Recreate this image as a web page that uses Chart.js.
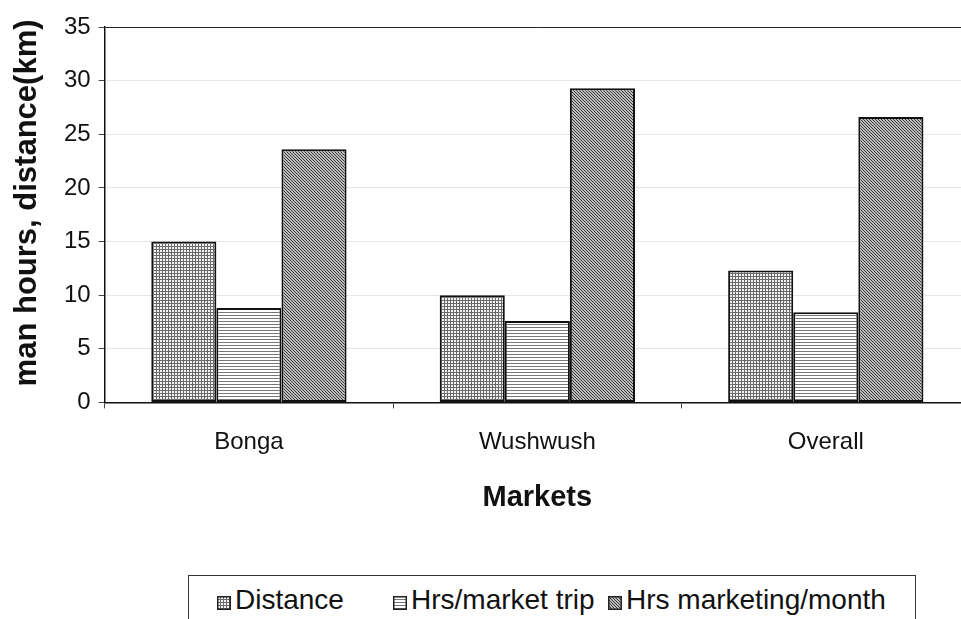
<!DOCTYPE html>
<html>
<head>
<meta charset="utf-8">
<script src="https://cdn.jsdelivr.net/npm/chart.js@4.4.1/dist/chart.umd.min.js"></script>
<style>
    html, body { margin: 0; padding: 0; background: #fff; overflow: hidden; }
    #wrap { position: absolute; left: 0; top: 0; width: 975px; height: 560px; }
    #legend {
        position: absolute; left: 188px; top: 575px; width: 728px; height: 60px;
        border: 1px solid #333; box-sizing: border-box; background: #fff;
        font-family: "Liberation Sans", Arial, sans-serif; font-size: 28px; color: #111;
    }
    #legend .item { position: absolute; top: 10px; white-space: nowrap; line-height: 28px; }
    #legend canvas { width: 14px; height: 14px; vertical-align: -1px; margin-right: 4px; }
</style>
</head>
<body>
<div id="wrap"><canvas id="marketsChart"></canvas></div>
<div id="legend"></div>
<script>
// Données
const markets = ['Bonga', 'Wushwush', 'Overall'];
const distance = [15.0, 10.0, 12.3];
const hrsPerTrip = [8.8, 7.6, 8.4];
const hrsPerMonth = [23.6, 29.3, 26.6];
const yTicks = [0, 5, 10, 15, 20, 25, 30, 35];
const seriesLabels = ['Distance', 'Hrs/market trip', 'Hrs marketing/month'];

const FONT = '"Liberation Sans", Arial, sans-serif';

// Motifs de remplissage (trame)
function makePattern(kind) {
    const c = document.createElement('canvas');
    c.width = 3; c.height = 3;
    const g = c.getContext('2d');
    if (kind === 'grid') {
        g.fillStyle = '#f4f4f4'; g.fillRect(0, 0, 3, 3);
        g.fillStyle = '#6a6a6a';
        g.fillRect(0, 0, 3, 1);
        g.fillRect(0, 0, 1, 3);
    } else if (kind === 'hlines') {
        g.fillStyle = '#ffffff'; g.fillRect(0, 0, 3, 3);
        g.fillStyle = '#777777';
        g.fillRect(0, 0, 3, 1);
    } else {
        g.fillStyle = '#bcbcbc'; g.fillRect(0, 0, 3, 3);
        g.fillStyle = '#3a3a3a';
        for (let i = 0; i < 3; i++) g.fillRect(i, i, 1, 1);
    }
    return { tile: c, pattern: g.createPattern(c, 'repeat') };
}

const patterns = [makePattern('grid'), makePattern('hlines'), makePattern('diag')];

// Titre vertical de l'axe Y (dépasse en haut comme sur l'original)
const yTitlePlugin = {
    id: 'yTitle',
    afterDraw(chart) {
        const ctx = chart.ctx;
        ctx.save();
        ctx.translate(27, chart.chartArea.bottom - 16);
        ctx.rotate(-Math.PI / 2);
        ctx.font = 'bold 31px ' + FONT;
        ctx.fillStyle = '#111';
        ctx.textAlign = 'left';
        ctx.textBaseline = 'middle';
        ctx.fillText('man hours, distance(km)', 0, 0);
        ctx.restore();
    }
};

const dataSets = [distance, hrsPerTrip, hrsPerMonth].map((values, i) => ({
    label: seriesLabels[i],
    data: values,
    backgroundColor: patterns[i].pattern,
    borderColor: '#111',
    borderWidth: 2,
    borderSkipped: false,
    barPercentage: 1,
    categoryPercentage: 0.677
}));

const chart = new Chart(document.getElementById('marketsChart'), {
    type: 'bar',
    data: { labels: markets, datasets: dataSets },
    options: {
        responsive: true,
        maintainAspectRatio: false,
        animation: false,
        layout: { padding: { left: 56, top: 27, right: 5, bottom: 45 } },
        plugins: {
            legend: { display: false },
            tooltip: { enabled: false }
        },
        scales: {
            x: {
                grid: {
                    offset: true,
                    drawOnChartArea: false,
                    tickLength: 6,
                    tickColor: '#444'
                },
                border: { color: '#111', width: 1.5 },
                ticks: { color: '#111', padding: 20, font: { family: FONT, size: 24 } },
                title: {
                    display: true,
                    text: 'Markets',
                    color: '#111',
                    padding: { top: 3, bottom: 0 },
                    font: { family: FONT, size: 29, weight: 'bold' }
                }
            },
            y: {
                min: 0,
                max: 35,
                afterBuildTicks: axis => { axis.ticks = yTicks.map(v => ({ value: v })); },
                grid: {
                    color: ctx => ctx.tick && ctx.tick.value === 35 ? '#222' : '#e6e6e6',
                    tickColor: '#444',
                    tickLength: 6
                },
                border: { color: '#111', width: 1.5 },
                ticks: { color: '#111', padding: 8, font: { family: FONT, size: 24 } }
            }
        }
    },
    plugins: [yTitlePlugin]
});

// Légende HTML encadrée
const legendPos = [28, 204, 419];
const legend = document.getElementById('legend');
chart.data.datasets.forEach((ds, i) => {
    const item = document.createElement('span');
    item.className = 'item';
    item.style.left = legendPos[i] + 'px';
    const sw = document.createElement('canvas');
    sw.width = 14; sw.height = 14;
    const g = sw.getContext('2d');
    g.fillStyle = g.createPattern(patterns[i].tile, 'repeat');
    g.fillRect(0, 0, 14, 14);
    g.strokeStyle = '#222';
    g.lineWidth = 1.5;
    g.strokeRect(0.75, 0.75, 12.5, 12.5);
    item.appendChild(sw);
    item.appendChild(document.createTextNode(ds.label));
    legend.appendChild(item);
});
</script>
</body>
</html>
